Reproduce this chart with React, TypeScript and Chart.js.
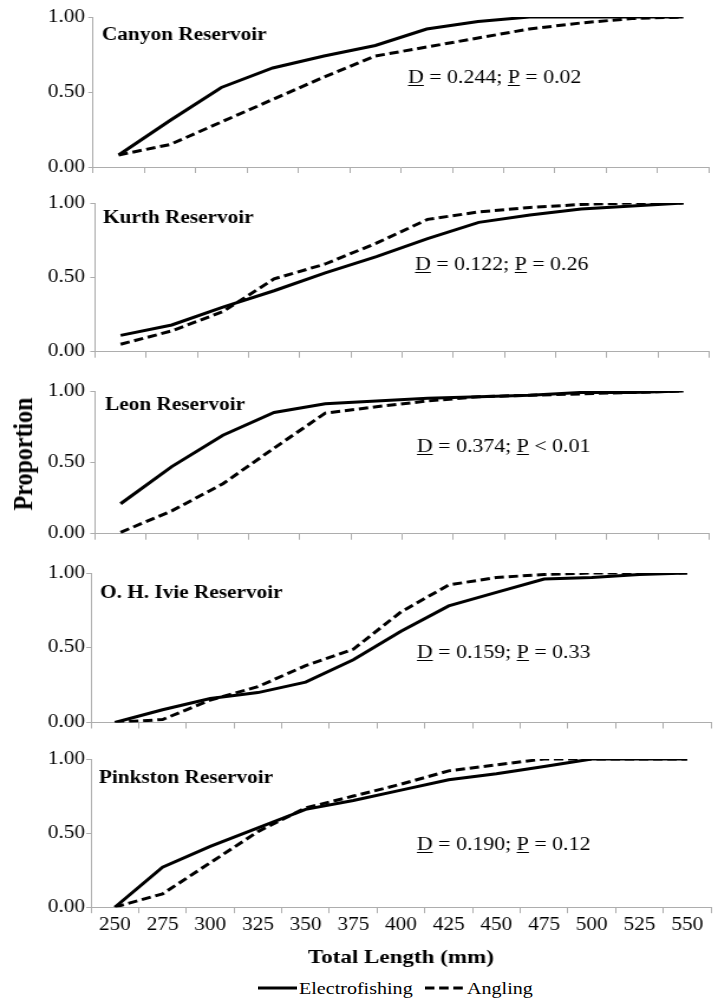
import React, { useEffect, useRef } from "react";
import { Chart, registerables } from "chart.js";

Chart.register(...registerables);

// ---------------- data ----------------
const lengthLabels = ["250", "275", "300", "325", "350", "375", "400", "425", "450", "475", "500", "525", "550"];
const reservoirNames = ["Canyon Reservoir", "Kurth Reservoir", "Leon Reservoir", "O. H. Ivie Reservoir", "Pinkston Reservoir"];
const seriesNames = ["Electrofishing", "Angling"];

const canyonElectro = [0.08, 0.31, 0.53, 0.66, 0.74, 0.81, 0.92, 0.97, 1.0, 1.0, 1.0, 1.0];
const canyonAngling = [0.08, 0.15, 0.3, 0.45, 0.6, 0.74, 0.8, 0.86, 0.92, 0.96, 0.99, 1.0];

const kurthElectro = [0.11, 0.18, 0.3, 0.41, 0.53, 0.64, 0.76, 0.87, 0.92, 0.96, 0.98, 1.0];
const kurthAngling = [0.05, 0.14, 0.27, 0.49, 0.59, 0.73, 0.89, 0.94, 0.97, 0.99, 1.0, 1.0];

const leonElectro = [0.21, 0.47, 0.69, 0.85, 0.91, 0.93, 0.95, 0.96, 0.97, 0.99, 0.99, 1.0];
const leonAngling = [0.01, 0.16, 0.35, 0.6, 0.845, 0.89, 0.93, 0.96, 0.97, 0.98, 0.99, 1.0];

const ivieElectro = [0.0, 0.085, 0.16, 0.2, 0.27, 0.42, 0.61, 0.78, 0.87, 0.96, 0.97, 0.99, 1.0];
const ivieAngling = [0.0, 0.02, 0.15, 0.24, 0.38, 0.49, 0.74, 0.92, 0.97, 0.99, 1.0, 1.0, 1.0];

const pinkstonElectro = [0.0, 0.27, 0.41, 0.535, 0.66, 0.72, 0.79, 0.86, 0.9, 0.95, 1.0, 1.0, 1.0];
const pinkstonAngling = [0.0, 0.09, 0.3, 0.51, 0.67, 0.75, 0.83, 0.92, 0.96, 1.0, 1.0, 1.0, 1.0];

const dStats = ["0.244", "0.122", "0.374", "0.159", "0.190"];
const pSigns = ["=", "=", "<", "=", "="];
const pValues = ["0.02", "0.26", "0.01", "0.33", "0.12"];

const yTickValues = [0, 0.5, 1];

const electroSeries = [canyonElectro, kurthElectro, leonElectro, ivieElectro, pinkstonElectro];
const anglingSeries = [canyonAngling, kurthAngling, leonAngling, ivieAngling, pinkstonAngling];

// ---------------- layout / style ----------------
const W = 608;
const SX = 718 / W;
const FONT = '"Liberation Serif", "Times New Roman", serif';
const TEXT = "#000";
const AXIS = "#adadad";
const LABEL_RIGHT = 85; // reference px

// reference-image px (horizontal values get divided by SX)
const panelLayout = [
  { top: 17, bottom: 167, left: 93, right: 709, titleX: 102, titleDy: 23, annotX: 408, annotDy: 66 },
  { top: 203, bottom: 353, left: 95, right: 709, titleX: 103, titleDy: 20, annotX: 415, annotDy: 67 },
  { top: 391, bottom: 535, left: 95, right: 709, titleX: 105, titleDy: 19, annotX: 417, annotDy: 61 },
  { top: 573, bottom: 722.5, left: 91, right: 711, titleX: 100, titleDy: 25, annotX: 417, annotDy: 85 },
  { top: 759.3, bottom: 907.5, left: 91, right: 711, titleX: 99, titleDy: 23.5, annotX: 417, annotDy: 91 },
];

function panelGeometry(index: number) {
  const L = panelLayout[index];
  const isLast = index === panelLayout.length - 1;
  const padTop = Math.min(20, L.top - 2);
  const plotH = L.bottom - L.top;
  const xH = isLast ? 62 : 8;
  const canvasTop = L.top - padTop;
  const canvasH = Math.ceil(padTop + plotH + xH + (isLast ? 0 : 6));
  const padBottom = canvasH - (padTop + plotH + xH);
  return { L, isLast, padTop, plotH, xH, canvasTop, canvasH, padBottom };
}

function Panel({ index }: { index: number }) {
  const ref = useRef<HTMLCanvasElement | null>(null);
  const g = panelGeometry(index);

  useEffect(() => {
    const canvas = ref.current;
    if (!canvas) return;
    const { L, isLast, padTop, xH, padBottom } = g;
    const electro = electroSeries[index];
    const angling = anglingSeries[index];
    const labels = lengthLabels.slice(0, electro.length);
    const leftUx = L.left / SX;
    const rightPad = W - L.right / SX;
    const yTickLen = 4;
    const yPad = Math.max(0, leftUx - yTickLen - LABEL_RIGHT / SX);

    const textPlugin = {
      id: "panelText" + index,
      afterDraw(chart: any) {
        const { ctx, chartArea } = chart;
        ctx.save();
        ctx.fillStyle = TEXT;
        ctx.textBaseline = "alphabetic";
        ctx.textAlign = "left";
        ctx.font = `bold 18px ${FONT}`;
        ctx.fillText(reservoirNames[index], L.titleX / SX, chartArea.top + L.titleDy);
        ctx.font = `18.5px ${FONT}`;
        let x = L.annotX / SX;
        const y = chartArea.top + L.annotDy;
        const parts = [
          { t: "D", u: true },
          { t: ` = ${dStats[index]}; `, u: false },
          { t: "P", u: true },
          { t: ` ${pSigns[index]} ${pValues[index]}`, u: false },
        ];
        for (const part of parts) {
          ctx.fillText(part.t, x, y);
          const w = ctx.measureText(part.t).width;
          if (part.u) ctx.fillRect(x, y + 2, w, 1);
          x += w;
        }
        ctx.restore();
      },
    };

    const chart = new Chart(canvas, {
      type: "line",
      data: {
        labels,
        datasets: [
          {
            label: seriesNames[0],
            data: electro,
            borderColor: "#000",
            backgroundColor: "#000",
            borderWidth: 3,
            pointRadius: 0,
            tension: 0,
            fill: false,
          },
          {
            label: seriesNames[1],
            data: angling,
            borderColor: "#000",
            backgroundColor: "#000",
            borderWidth: 3,
            borderDash: [8, 4],
            pointRadius: 0,
            tension: 0,
            fill: false,
          },
        ],
      },
      options: {
        responsive: false,
        animation: false,
        devicePixelRatio: 1,
        events: [],
        layout: { padding: { top: padTop, bottom: padBottom, left: 0, right: rightPad } },
        plugins: {
          legend: { display: false },
          tooltip: { enabled: false },
          title: { display: false },
        },
        scales: {
          x: {
            type: "category",
            offset: true,
            grid: { offset: true, drawOnChartArea: false, drawTicks: true, tickLength: 6, color: AXIS, lineWidth: 1 },
            border: { display: true, color: AXIS, width: 1 },
            ticks: {
              display: isLast,
              font: { family: FONT, size: 18 },
              color: TEXT,
              padding: 1,
              maxRotation: 0,
              autoSkip: false,
            },
            title: {
              display: isLast,
              text: "Total Length (mm)",
              font: { family: FONT, size: 19.5, weight: "bold" },
              color: TEXT,
              padding: 0,
            },
            afterFit: (s: any) => {
              s.height = xH;
            },
          },
          y: {
            min: 0,
            max: 1,
            afterBuildTicks: (s: any) => {
              s.ticks = yTickValues.map((v) => ({ value: v }));
            },
            grid: { drawOnChartArea: false, drawTicks: true, tickLength: yTickLen, color: AXIS, lineWidth: 1 },
            border: { display: true, color: AXIS, width: 1 },
            ticks: {
              font: { family: FONT, size: 18 },
              color: TEXT,
              padding: yPad,
              callback: (v: any) => Number(v).toFixed(2),
            },
            afterFit: (s: any) => {
              s.width = leftUx;
            },
          },
        },
      } as any,
      plugins: [textPlugin],
    });
    return () => chart.destroy();
  }, [index]);

  return (
    <canvas
      ref={ref}
      width={W}
      height={g.canvasH}
      style={{ position: "absolute", left: 0, top: g.canvasTop, width: W, height: g.canvasH }}
    />
  );
}

export default function App() {
  const u = (v: number) => v / SX;
  return (
    <div
      style={{
        position: "absolute",
        left: 0,
        top: 0,
        width: W,
        height: 1000,
        overflow: "hidden",
        background: "#fff",
        transform: `scaleX(${SX})`,
        transformOrigin: "0 0",
      }}
    >
      {panelLayout.map((_, i) => (
        <Panel key={i} index={i} />
      ))}
      <div
        style={{
          position: "absolute",
          left: u(23),
          top: 454,
          transform: "translate(-50%, -50%) rotate(-90deg)",
          whiteSpace: "nowrap",
          fontFamily: FONT,
          fontWeight: "bold",
          fontSize: 24,
          color: TEXT,
          lineHeight: 1,
        }}
      >
        Proportion
      </div>
      <svg
        width={W}
        height={30}
        style={{ position: "absolute", left: 0, top: 973 }}
      >
        <line x1={u(258)} x2={u(297)} y1={15} y2={15} stroke="#000" strokeWidth={3} />
        <text x={u(299)} y={20.6} fontFamily={FONT} fontSize={17} fill={TEXT}>
          {seriesNames[0]}
        </text>
        <line x1={u(425)} x2={u(463)} y1={15} y2={15} stroke="#000" strokeWidth={3} strokeDasharray="8 4" />
        <text x={u(467)} y={20.6} fontFamily={FONT} fontSize={17} fill={TEXT}>
          {seriesNames[1]}
        </text>
      </svg>
    </div>
  );
}
